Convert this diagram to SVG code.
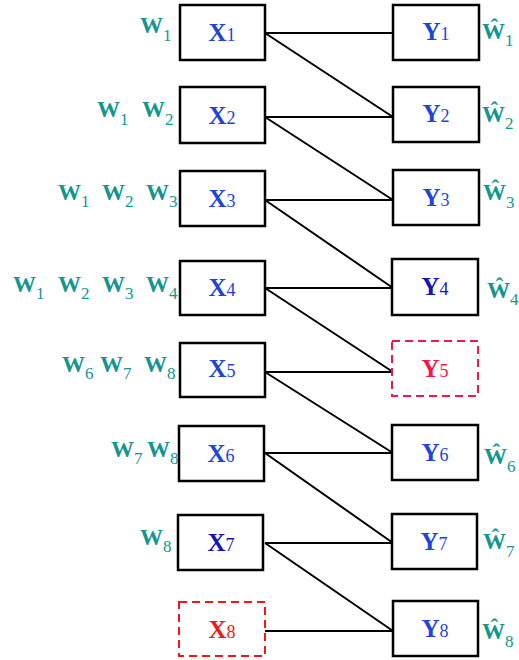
<svg xmlns="http://www.w3.org/2000/svg" width="519" height="660" viewBox="0 0 519 660">
<style>
.box{fill:#fff;stroke:#000;stroke-width:2.5}
.dx{fill:#fff;stroke:#f01818;stroke-width:2;stroke-dasharray:8 5}
.dy{fill:#fff;stroke:#f0184a;stroke-width:2;stroke-dasharray:8 5}
.ln{stroke:#000;stroke-width:2;fill:none}
.lbl{font-family:"Liberation Serif",serif;font-size:25px;font-weight:bold;fill:#1f44d6;text-anchor:middle}
.dk{fill:#1515b0}
.sub{font-size:18px;font-weight:normal}
.w{font-family:"Liberation Serif",serif;font-size:23px;font-weight:bold;fill:#14968f}
.ws{font-size:17px;font-weight:normal}
</style>
<g id="connectors">
<line class="ln" x1="265" y1="33" x2="393" y2="33"/>
<line class="ln" x1="265" y1="33" x2="393" y2="117"/>
<line class="ln" x1="265" y1="117" x2="393" y2="117"/>
<line class="ln" x1="265" y1="117" x2="393" y2="200"/>
<line class="ln" x1="265" y1="200" x2="393" y2="200"/>
<line class="ln" x1="265" y1="200" x2="393" y2="288"/>
<line class="ln" x1="265" y1="288" x2="393" y2="288"/>
<line class="ln" x1="265" y1="288" x2="393" y2="372"/>
<line class="ln" x1="265" y1="372" x2="393" y2="372"/>
<line class="ln" x1="265" y1="372" x2="393" y2="453"/>
<line class="ln" x1="265" y1="453" x2="393" y2="453"/>
<line class="ln" x1="265" y1="453" x2="393" y2="543"/>
<line class="ln" x1="265" y1="543" x2="393" y2="543"/>
<line class="ln" x1="265" y1="543" x2="393" y2="631"/>
<line class="ln" x1="265" y1="631" x2="393" y2="631"/>
</g>
<g id="X1"><rect class="box" x="180" y="5" width="85" height="55"/><text class="lbl" x="222" y="41">X<tspan class="sub">1</tspan></text></g>
<g id="X2"><rect class="box" x="180" y="87" width="85" height="56"/><text class="lbl" x="222" y="124">X<tspan class="sub">2</tspan></text></g>
<g id="X3"><rect class="box" x="180" y="171" width="85" height="55"/><text class="lbl" x="222" y="207">X<tspan class="sub">3</tspan></text></g>
<g id="X4"><rect class="box" x="180" y="261" width="85" height="54"/><text class="lbl" x="222" y="296">X<tspan class="sub">4</tspan></text></g>
<g id="X5"><rect class="box" x="180" y="343" width="85" height="54"/><text class="lbl" x="222" y="377">X<tspan class="sub">5</tspan></text></g>
<g id="X6"><rect class="box" x="179" y="426" width="85" height="55"/><text class="lbl" x="221" y="462">X<tspan class="sub">6</tspan></text></g>
<g id="X7"><rect class="box" x="178" y="515" width="85" height="55"/><text class="lbl dk" x="221" y="551">X<tspan class="sub">7</tspan></text></g>
<g id="X8"><rect class="dx" x="179" y="602" width="86" height="54"/><text class="lbl" style="fill:#f01818" x="222" y="638">X<tspan class="sub">8</tspan></text></g>
<g id="Y1"><rect class="box" x="393" y="5" width="86" height="55"/><text class="lbl" x="436" y="40">Y<tspan class="sub">1</tspan></text></g>
<g id="Y2"><rect class="box" x="393" y="87" width="86" height="55"/><text class="lbl" x="436" y="122">Y<tspan class="sub">2</tspan></text></g>
<g id="Y3"><rect class="box" x="393" y="170" width="86" height="55"/><text class="lbl" x="436" y="206">Y<tspan class="sub">3</tspan></text></g>
<g id="Y4"><rect class="box" x="392" y="259" width="86" height="56"/><text class="lbl dk" x="435" y="295">Y<tspan class="sub">4</tspan></text></g>
<g id="Y5"><rect class="dy" x="392" y="341" width="86" height="55"/><text class="lbl" style="fill:#f0184a" x="435" y="377">Y<tspan class="sub">5</tspan></text></g>
<g id="Y6"><rect class="box" x="392" y="425" width="86" height="55"/><text class="lbl" x="435" y="461">Y<tspan class="sub">6</tspan></text></g>
<g id="Y7"><rect class="box" x="392" y="514" width="85" height="55"/><text class="lbl" x="434" y="550">Y<tspan class="sub">7</tspan></text></g>
<g id="Y8"><rect class="box" x="393" y="601" width="85" height="55"/><text class="lbl" x="435" y="637">Y<tspan class="sub">8</tspan></text></g>
<g id="W-left">
<text class="w" x="140" y="33">W<tspan class="ws" dy="8">1</tspan></text>
<text class="w" x="97" y="117">W<tspan class="ws" dy="8">1</tspan></text>
<text class="w" x="142" y="117">W<tspan class="ws" dy="8">2</tspan></text>
<text class="w" x="58" y="200">W<tspan class="ws" dy="7">1</tspan></text>
<text class="w" x="102" y="200">W<tspan class="ws" dy="7">2</tspan></text>
<text class="w" x="146" y="200">W<tspan class="ws" dy="7">3</tspan></text>
<text class="w" x="13" y="292">W<tspan class="ws" dy="7">1</tspan></text>
<text class="w" x="58" y="292">W<tspan class="ws" dy="7">2</tspan></text>
<text class="w" x="102" y="292">W<tspan class="ws" dy="7">3</tspan></text>
<text class="w" x="146" y="292">W<tspan class="ws" dy="7">4</tspan></text>
<text class="w" x="62" y="372">W<tspan class="ws" dy="7">6</tspan></text>
<text class="w" x="100" y="372">W<tspan class="ws" dy="7">7</tspan></text>
<text class="w" x="144" y="372">W<tspan class="ws" dy="7">8</tspan></text>
<text class="w" x="111" y="457">W<tspan class="ws" dy="7">7</tspan></text>
<text class="w" x="147" y="457">W<tspan class="ws" dy="7">8</tspan></text>
<text class="w" x="140" y="545">W<tspan class="ws" dy="7">8</tspan></text>
</g>
<g id="W-hat">
<text class="w" x="482" y="39">Ŵ<tspan class="ws" dy="7">1</tspan></text>
<text class="w" x="482" y="122">Ŵ<tspan class="ws" dy="7">2</tspan></text>
<text class="w" x="483" y="200">Ŵ<tspan class="ws" dy="8">3</tspan></text>
<text class="w" x="487" y="298">Ŵ<tspan class="ws" dy="7">4</tspan></text>
<text class="w" x="484" y="464">Ŵ<tspan class="ws" dy="8">6</tspan></text>
<text class="w" x="483" y="549">Ŵ<tspan class="ws" dy="8">7</tspan></text>
<text class="w" x="482" y="639">Ŵ<tspan class="ws" dy="8">8</tspan></text>
</g>
</svg>
